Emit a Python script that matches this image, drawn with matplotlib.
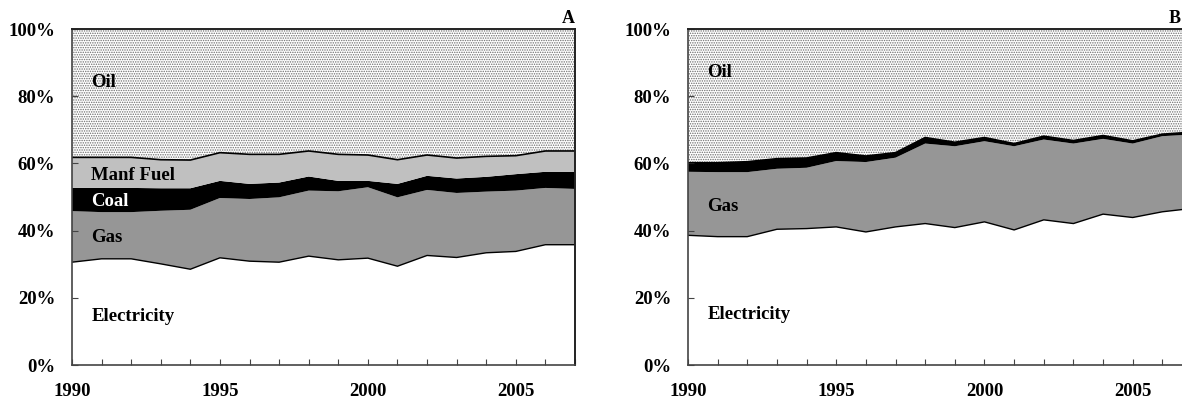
import numpy as np
import matplotlib
matplotlib.use("Agg")
import matplotlib.pyplot as plt

plt.rcParams['font.family'] = ['Liberation Serif', 'DejaVu Serif']
plt.rcParams['font.weight'] = 'bold'
plt.rcParams['hatch.linewidth'] = 0.7

years = list(range(1990, 2008))

# Panel A shares (%)
a_electricity = [30.6, 31.6, 31.6, 30.1, 28.5, 31.9, 30.9, 30.6, 32.4, 31.3, 31.8, 29.4, 32.6, 32.0, 33.4, 33.8, 35.8, 35.8]
a_gas = [15.2, 13.9, 13.9, 15.8, 17.7, 17.8, 18.5, 19.3, 19.5, 20.4, 21.1, 20.5, 19.5, 19.2, 18.2, 18.1, 16.9, 16.6]
a_coal = [6.9, 7.2, 7.2, 6.7, 6.4, 5.1, 4.5, 4.4, 4.2, 3.1, 1.9, 4.0, 4.2, 4.3, 4.4, 4.9, 4.8, 5.1]
a_manf = [9.1, 9.1, 9.1, 8.5, 8.4, 8.4, 8.8, 8.4, 7.6, 7.9, 7.7, 7.2, 6.2, 6.1, 6.1, 5.5, 6.2, 6.2]
a_oil = [38.2, 38.2, 38.2, 38.9, 39.0, 36.8, 37.3, 37.3, 36.3, 37.3, 37.5, 38.9, 37.5, 38.4, 37.9, 37.7, 36.3, 36.3]

# Panel B shares (%)
b_electricity = [38.6, 38.2, 38.2, 40.4, 40.6, 41.1, 39.6, 41.1, 42.1, 40.9, 42.6, 40.2, 43.2, 42.1, 44.9, 43.9, 45.6, 46.6]
b_gas = [18.9, 19.2, 19.2, 18.0, 18.1, 19.6, 20.8, 20.6, 23.8, 24.2, 24.0, 24.9, 23.9, 23.8, 22.4, 22.0, 22.5, 22.0]
b_coal = [2.7, 2.8, 3.1, 3.0, 2.9, 2.5, 1.8, 1.5, 1.8, 1.2, 1.1, 0.8, 1.0, 0.9, 1.0, 0.8, 0.6, 0.7]
b_oil = [100 - e - g - c for e, g, c in zip(b_electricity, b_gas, b_coal)]

ytick_vals = [0, 20, 40, 60, 80, 100]
xtick_labels = {1990: "1990", 1995: "1995", 2000: "2000", 2005: "2005"}

fig = plt.figure(figsize=(11.82, 4.03), dpi=100)
H = 403.0
W = 1182.0
axA = fig.add_axes([72 / W, (H - 365) / H, 503 / W, 336 / H])
axB = fig.add_axes([688 / W, (H - 365) / H, 504 / W, 336 / H])


def draw_panel(ax, series, colors, labels, letter, letter_x=1.0):
    polys = ax.stackplot(years, *series, colors=colors, linewidth=0)
    # last series (oil) gets the dotted pattern
    polys[-1].set_facecolor('white')
    polys[-1].set_edgecolor('#6e6e6e')
    polys[-1].set_hatch('.......')
    polys[-1].set_linewidth(0)
    cum = np.cumsum(np.array(series[:-1]), axis=0)
    ax.plot(years, cum[0], color='black', lw=1.0)
    ax.plot(years, cum[-1], color='black', lw=1.2)

    for txt, (x, y, c) in labels.items():
        ax.text(x, y, txt, color=c, fontsize=13.5, fontweight='bold',
                ha='left', va='center')

    ax.set_xlim(1990, 2007)
    ax.set_ylim(0, 100)
    ax.set_yticks(ytick_vals)
    ax.set_yticklabels([f"{v}%" for v in ytick_vals])
    ax.set_xticks(years)
    ax.set_xticklabels([xtick_labels.get(y, "") for y in years])
    ax.tick_params(axis='x', direction='in', length=4, width=0.8, pad=13,
                   labelsize=13.5, color='#444444')
    ax.tick_params(axis='y', direction='in', length=4, width=0.8, pad=12,
                   labelsize=13.5, color='#444444')
    for side in ['left', 'bottom']:
        ax.spines[side].set_color('#444444')
        ax.spines[side].set_linewidth(1.2)
    for side in ['top', 'right']:
        ax.spines[side].set_color('#222222')
        ax.spines[side].set_linewidth(1.4)
    ax.text(letter_x, 1.005, letter, transform=ax.transAxes, ha='right', va='bottom',
            fontsize=13, fontweight='bold')


draw_panel(axA,
           [a_electricity, a_gas, a_coal, a_manf, a_oil],
           ['white', '#969696', 'black', '#c0c0c0', 'white'],
           {"Oil": (1990.65, 84.0, 'black'),
            "Manf Fuel": (1990.65, 56.3, 'black'),
            "Coal": (1990.65, 48.6, 'white'),
            "Gas": (1990.65, 37.8, 'black'),
            "Electricity": (1990.65, 14.3, 'black')},
           "A")

# panel B runs past the right edge of the image; keep its letter inside
draw_panel(axB,
           [b_electricity, b_gas, b_coal, b_oil],
           ['white', '#969696', 'black', 'white'],
           {"Oil": (1990.65, 87.1, 'black'),
            "Gas": (1990.65, 47.3, 'black'),
            "Electricity": (1990.65, 15.1, 'black')},
           "B", letter_x=(1181 - 688) / 504)

fig.savefig("out.png", dpi=100)
